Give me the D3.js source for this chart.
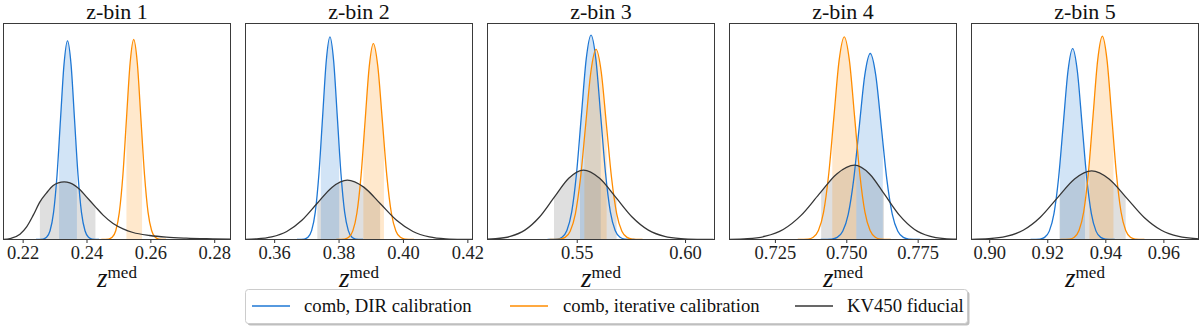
<!DOCTYPE html>
<html><head><meta charset="utf-8">
<script src="https://cdn.jsdelivr.net/npm/d3@7/dist/d3.min.js"></script>
<style>body{margin:0;background:#fff}</style>
</head><body>
<svg id="chart" width="1200" height="327"></svg>
<script>
// ---------------- data ----------------
const binTitles = ["z-bin 1", "z-bin 2", "z-bin 3", "z-bin 4", "z-bin 5"];
const seriesNames = ["comb, DIR calibration", "comb, iterative calibration", "KV450 fiducial"];

const xDomains = [[0.2140, 0.2851], [0.3511, 0.4216], [0.5088, 0.6136], [0.7091, 0.7886], [0.8939, 0.9721]];
const xTicks = [[0.22, 0.24, 0.26, 0.28], [0.36, 0.38, 0.40, 0.42], [0.55, 0.60], [0.725, 0.750, 0.775], [0.90, 0.92, 0.94, 0.96]];
const xTickLabels = [["0.22", "0.24", "0.26", "0.28"], ["0.36", "0.38", "0.40", "0.42"], ["0.55", "0.60"], ["0.725", "0.750", "0.775"], ["0.90", "0.92", "0.94", "0.96"]];

// marginal densities [z_med, density (relative to panel height)]
const dirDensity = [
  [[0.22420,0],[0.22639,0.0020],[0.22748,0.0102],[0.22858,0.0404],[0.22967,0.1245],[0.23077,0.2987],[0.23186,0.5580],[0.23296,0.8119],[0.23405,0.920],[0.23515,0.8119],[0.23624,0.5580],[0.23734,0.2987],[0.23843,0.1245],[0.23953,0.0404],[0.24062,0.0102],[0.24172,0.0020],[0.24391,0]],
  [[0.36707,0],[0.36935,0.0021],[0.37049,0.0104],[0.37163,0.0412],[0.37277,0.1269],[0.37391,0.3046],[0.37505,0.5689],[0.37619,0.8278],[0.37733,0.938],[0.37847,0.8278],[0.37961,0.5689],[0.38075,0.3046],[0.38189,0.1269],[0.38303,0.0412],[0.38417,0.0104],[0.38531,0.0021],[0.38759,0]],
  [[0.53653,0],[0.54099,0.0021],[0.54322,0.0105],[0.54545,0.0415],[0.54768,0.1280],[0.54991,0.3072],[0.55214,0.5737],[0.55437,0.8348],[0.55660,0.946],[0.55883,0.8348],[0.56106,0.5737],[0.56329,0.3072],[0.56552,0.1280],[0.56775,0.0415],[0.56998,0.0105],[0.57221,0.0021],[0.57667,0]],
  [[0.74103,0],[0.74489,0.0019],[0.74682,0.0096],[0.74875,0.0378],[0.75068,0.1165],[0.75261,0.2796],[0.75454,0.5222],[0.75647,0.7598],[0.75840,0.861],[0.76033,0.7598],[0.76226,0.5222],[0.76419,0.2796],[0.76612,0.1165],[0.76805,0.0378],[0.76998,0.0096],[0.77191,0.0019],[0.77577,0]],
  [[0.91426,0],[0.91748,0.0019],[0.91909,0.0098],[0.92070,0.0388],[0.92231,0.1196],[0.92392,0.2870],[0.92553,0.5361],[0.92714,0.7801],[0.92875,0.884],[0.93036,0.7801],[0.93197,0.5361],[0.93358,0.2870],[0.93519,0.1196],[0.93680,0.0388],[0.93841,0.0098],[0.94002,0.0019],[0.94324,0]]
];
const iterDensity = [
  [[0.24465,0],[0.24691,0.0020],[0.24803,0.0103],[0.24916,0.0407],[0.25028,0.1253],[0.25141,0.3007],[0.25253,0.5616],[0.25366,0.8172],[0.25478,0.926],[0.25591,0.8172],[0.25703,0.5616],[0.25816,0.3007],[0.25928,0.1253],[0.26041,0.0407],[0.26153,0.0103],[0.26266,0.0020],[0.26491,0]],
  [[0.37933,0],[0.38188,0.0020],[0.38315,0.0101],[0.38443,0.0398],[0.38570,0.1227],[0.38698,0.2945],[0.38825,0.5501],[0.38953,0.8004],[0.39080,0.907],[0.39220,0.8004],[0.39360,0.5501],[0.39500,0.2945],[0.39640,0.1227],[0.39780,0.0398],[0.39920,0.0101],[0.40060,0.0020],[0.40340,0]],
  [[0.53744,0],[0.54221,0.0019],[0.54460,0.0098],[0.54698,0.0386],[0.54937,0.1191],[0.55175,0.2857],[0.55414,0.5337],[0.55653,0.7766],[0.55891,0.880],[0.56130,0.7766],[0.56368,0.5337],[0.56607,0.2857],[0.56845,0.1191],[0.57084,0.0386],[0.57322,0.0098],[0.57561,0.0019],[0.58038,0]],
  [[0.73300,0],[0.73662,0.0021],[0.73843,0.0104],[0.74024,0.0412],[0.74205,0.1269],[0.74386,0.3046],[0.74567,0.5689],[0.74748,0.8278],[0.74929,0.938],[0.75110,0.8278],[0.75291,0.5689],[0.75472,0.3046],[0.75653,0.1269],[0.75834,0.0412],[0.76015,0.0104],[0.76196,0.0021],[0.76558,0]],
  [[0.92449,0],[0.92771,0.0021],[0.92932,0.0104],[0.93093,0.0413],[0.93254,0.1273],[0.93415,0.3055],[0.93576,0.5707],[0.93737,0.8304],[0.93898,0.941],[0.94059,0.8304],[0.94220,0.5707],[0.94381,0.3055],[0.94542,0.1273],[0.94703,0.0413],[0.94864,0.0104],[0.95025,0.0021],[0.95347,0]]
];
const kvDensity = [
  [[0.21395,0],[0.21603,0.0046],[0.21916,0.0247],[0.22124,0.0586],[0.22332,0.1127],[0.22541,0.1744],[0.22749,0.2160],[0.22957,0.2500],[0.23114,0.2623],[0.23301,0.2670],[0.23478,0.2623],[0.23791,0.2315],[0.23999,0.1975],[0.24280,0.1512],[0.24520,0.1127],[0.24832,0.0741],[0.25145,0.0494],[0.25457,0.0324],[0.25978,0.0185],[0.26499,0.0108],[0.27124,0.0062],[0.27957,0.0031],[0.28499,0.0015]],
  [[0.34512,0.0001],[0.34982,0.0006],[0.35452,0.0030],[0.35922,0.0121],[0.36392,0.0372],[0.36862,0.0892],[0.37332,0.1666],[0.37802,0.2424],[0.38272,0.2747],[0.38782,0.2424],[0.39292,0.1666],[0.39802,0.0892],[0.40312,0.0372],[0.40822,0.0121],[0.41332,0.0030],[0.41842,0.0006],[0.42352,0.0001]],
  [[0.49906,0.0001],[0.50581,0.0007],[0.51256,0.0036],[0.51931,0.0141],[0.52606,0.0434],[0.53281,0.1042],[0.53956,0.1947],[0.54631,0.2833],[0.55306,0.321],[0.56056,0.2833],[0.56806,0.1947],[0.57556,0.1042],[0.58306,0.0434],[0.59056,0.0141],[0.59806,0.0036],[0.60556,0.0007],[0.61306,0.0001]],
  [[0.70291,0.0001],[0.70916,0.0008],[0.71541,0.0038],[0.72166,0.0151],[0.72791,0.0465],[0.73416,0.1117],[0.74041,0.2086],[0.74666,0.3036],[0.75291,0.344],[0.75816,0.3036],[0.76341,0.2086],[0.76866,0.1117],[0.77391,0.0465],[0.77916,0.0151],[0.78441,0.0038],[0.78966,0.0008]],
  [[0.88810,0.0001],[0.89400,0.0007],[0.89990,0.0035],[0.90580,0.0140],[0.91170,0.0430],[0.91760,0.1033],[0.92350,0.1929],[0.92940,0.2806],[0.93530,0.318],[0.94130,0.2806],[0.94730,0.1929],[0.95330,0.1033],[0.95930,0.0430],[0.96530,0.0140],[0.97130,0.0035],[0.97730,0.0007]]
];
// 68% credible intervals [lo, hi]
const dirBand  = [[0.2314, 0.2370], [0.3745, 0.3802], [0.5515, 0.5611], [0.7535, 0.7628], [0.9244, 0.9330]];
const iterBand = [[0.2525, 0.2574], [0.3877, 0.3941], [0.5535, 0.5638], [0.7451, 0.7535], [0.9345, 0.9428]];
const kvBand   = [[0.2254, 0.2428], [0.3734, 0.3929], [0.5395, 0.5684], [0.7412, 0.7632], [0.9242, 0.9470]];

// ---------------- drawing ----------------
const svg = d3.select("#chart");
const FONT = '"Liberation Serif"';
const left0 = 3.5, gap = 242, top0 = 23.5, pw = 227, ph = 216;
const colors = ["#1e77d4", "#ff8c00", "#363636"];
const fillOp = [0.2, 0.2, 0.16];
const densities = [dirDensity, iterDensity, kvDensity];
const bands = [dirBand, iterBand, kvBand];
const defs = svg.append("defs");
const y = d3.scaleLinear().domain([0, 1]).range([ph, 0]);

binTitles.forEach((title, i) => {
  const g = svg.append("g").attr("transform", `translate(${left0 + i * gap},${top0})`);
  const x = d3.scaleLinear().domain(xDomains[i]).range([0, pw]);

  defs.append("clipPath").attr("id", `plot${i}`)
    .append("rect").attr("x", 0).attr("y", 0).attr("width", pw).attr("height", ph);

  const area = d3.area().x(d => x(d[0])).y0(y(0)).y1(d => y(d[1])).curve(d3.curveMonotoneX);
  const line = d3.line().x(d => x(d[0])).y(d => y(d[1])).curve(d3.curveMonotoneX);

  const plot = g.append("g").attr("clip-path", `url(#plot${i})`);
  [2, 0, 1].forEach(s => {
    const b = bands[s][i];
    const cid = `band${i}_${s}`;
    defs.append("clipPath").attr("id", cid)
      .append("rect").attr("x", x(b[0])).attr("y", 0).attr("width", x(b[1]) - x(b[0])).attr("height", ph);
    plot.append("path").datum(densities[s][i])
      .attr("clip-path", `url(#${cid})`)
      .attr("d", area).attr("fill", colors[s]).attr("fill-opacity", fillOp[s]);
  });
  [0, 1, 2].forEach(s => {
    plot.append("path").datum(densities[s][i])
      .attr("d", line).attr("fill", "none").attr("stroke", colors[s]).attr("stroke-width", 1.3);
  });

  const ax = g.append("g").attr("transform", `translate(0,${ph})`)
    .call(d3.axisBottom(x).tickValues(xTicks[i]).tickFormat((d, j) => xTickLabels[i][j]).tickSize(3.5).tickSizeOuter(0).tickPadding(3));
  ax.style("font-family", FONT).attr("font-size", 18.5);
  ax.select(".domain").remove();
  ax.selectAll(".tick line").attr("stroke", "#333");
  ax.selectAll(".tick text").style("font-family", FONT).attr("font-size", 18.5).attr("fill", "#222");

  g.append("rect").attr("x", 0).attr("y", 0).attr("width", pw).attr("height", ph)
    .attr("fill", "none").attr("stroke", "#3a3a3a").attr("stroke-width", 1);

  g.append("text").attr("x", pw / 2).attr("y", -4.5).attr("text-anchor", "middle")
    .style("font-family", FONT).attr("font-size", 22).attr("fill", "#111").text(title);

  const xl = g.append("text").attr("x", pw / 2).attr("y", 263).attr("text-anchor", "middle")
    .style("font-family", FONT).attr("font-size", 27).attr("fill", "#111");
  xl.append("tspan").style("font-family", FONT).style("font-style", "italic").attr("font-size", 27).text("z");
  xl.append("tspan").style("font-family", FONT).attr("font-size", 17).attr("dy", -9).text("med");
});

// legend
const lg = svg.append("g");
lg.append("rect").attr("x", 247.5).attr("y", 291.5).attr("width", 722).attr("height", 34)
  .attr("rx", 3).attr("fill", "#000").attr("fill-opacity", 0.25);
lg.append("rect").attr("x", 245.5).attr("y", 289.5).attr("width", 722).attr("height", 34)
  .attr("rx", 3).attr("fill", "#fff").attr("stroke", "#cccccc").attr("stroke-width", 1);
const handleX = [252, 510, 795];
const textX = [304, 563, 847];
seriesNames.forEach((nm, s) => {
  lg.append("line").attr("x1", handleX[s]).attr("x2", handleX[s] + 38).attr("y1", 306).attr("y2", 306)
    .attr("stroke", colors[s]).attr("stroke-width", 1.3);
  lg.append("text").attr("x", textX[s]).attr("y", 312).style("font-family", FONT).attr("font-size", 18.7)
    .attr("fill", "#111").text(nm);
});
</script>
</body></html>
